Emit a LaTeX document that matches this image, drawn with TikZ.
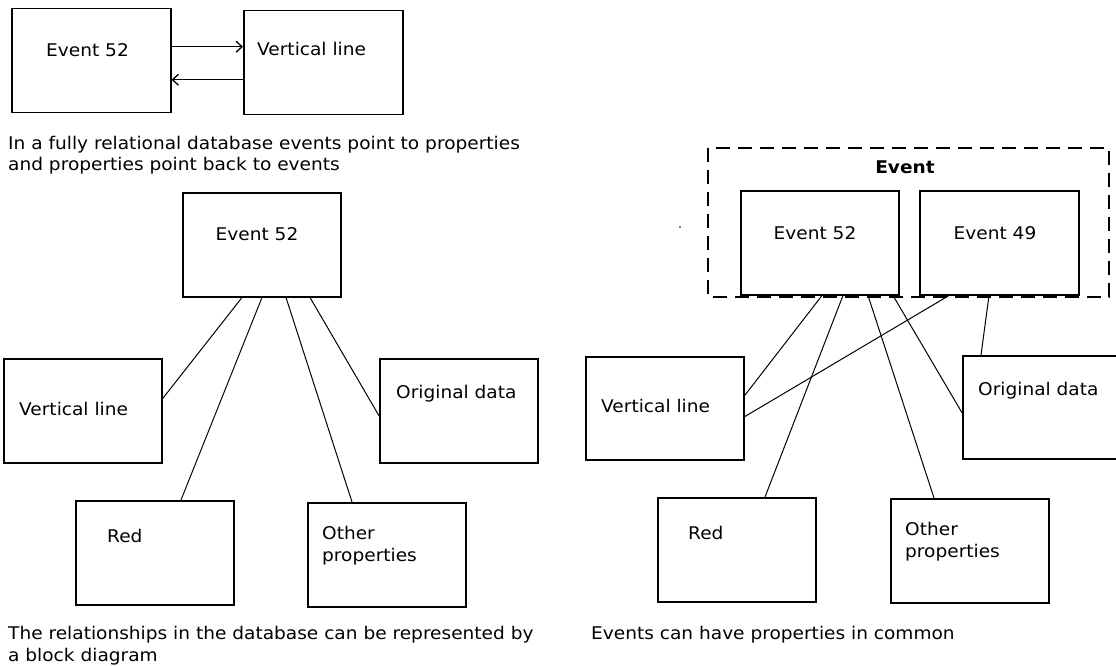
\documentclass[tikz,border=0pt]{standalone}
\usepackage{fontspec}
\setmainfont{DejaVu Sans}[FakeStretch=1.06]
\usetikzlibrary{arrows.meta}
\tikzset{
  box/.style={draw, line width=1.5pt, minimum width=158pt, minimum height=104pt, inner sep=0pt, anchor=north west},
  txt/.style={inner sep=0pt, anchor=base west, font=\fontsize{17.5}{21.5}\selectfont},
  para/.style={inner sep=0pt, anchor=north west, align=left, font=\fontsize{17.5}{21.5}\selectfont},
  link/.style={line width=1pt},
  tip/.style={line width=1.3pt, -{Straight Barb[length=6pt, width=11pt]}}
}
\begin{document}
\begin{tikzpicture}[x=1pt, y=-1pt]
\useasboundingbox (0,0) rectangle (1116,666);
% top: events and properties point to each other
\node[box, minimum width=159pt] (topev) at (11,8) {};
\node[box, minimum width=159pt] (topvl) at (243,10) {};
\node[txt] (topevt) at (46,57) {Event 52};
\node[txt] (topvlt) at (257,55.5) {Vertical line};
\coordinate (a1) at ([yshift=14pt]topev.east);
\coordinate (a2) at ([yshift=-19pt]topev.east);
\draw[tip] (a1) -- (a1 -| topvl.west);
\draw[tip] (a2 -| topvl.west) -- (a2);
\node[para] (cap1) at (8,136) {In a fully relational database events point to properties\\and properties point back to events};
% left: block diagram
\node[box] (ev52) at (182,192) {};
\node[box] (vline) at (3,358) {};
\node[box] (orig) at (379,358) {};
\node[box] (red) at (75,500) {};
\node[box] (other) at (307,502) {};
\node[txt, anchor=base] (ev52t) at (257,240.5) {Event 52};
\node[txt] (vlinet) at (19,415.5) {Vertical line};
\node[txt] (origt) at (396,398.5) {Original data};
\node[txt] (redt) at (107,542.5) {Red};
\node[para] (othert) at (322,526) {Other\\properties};
\draw[link] ([xshift=60pt]ev52.south west) -- ([yshift=12pt]vline.east);
\draw[link] ([xshift=80pt]ev52.south west) -- ([xshift=106pt]red.north west);
\draw[link] ([xshift=104pt]ev52.south west) -- ([xshift=45pt]other.north west);
\draw[link] ([xshift=128pt]ev52.south west) -- ([yshift=-5pt]orig.west);
\node[para] (cap2) at (8,626) {The relationships in the database can be represented by\\a block diagram};
% right: shared properties
\draw[line width=1.5pt, dash pattern=on 14pt off 8pt] (708,148) rectangle (1109,297);
\node[txt, anchor=base, font=\fontsize{17.5}{21.5}\selectfont\bfseries] (grpt) at (905,173.5) {Event};
\node[box] (ev52b) at (740,190) {};
\node[box, minimum width=159pt] (ev49) at (919,190) {};
\node[box, minimum height=103pt] (vlineb) at (585,356) {};
\node[box, minimum height=103pt] (origb) at (962,355) {};
\node[box] (redb) at (657,497) {};
\node[box] (otherb) at (890,498) {};
\node[txt, anchor=base] (ev52bt) at (815,239.5) {Event 52};
\node[txt, anchor=base] (ev49t) at (995,239.5) {Event 49};
\node[txt] (vlinebt) at (601,412.5) {Vertical line};
\node[txt] (origbt) at (978,395.5) {Original data};
\node[txt] (redbt) at (688,539.5) {Red};
\node[para] (otherbt) at (905,522) {Other\\properties};
\fill (680,227) circle (0.8pt);
\draw[link] ([xshift=82pt]ev52b.south west) -- ([yshift=12.5pt]vlineb.east);
\draw[link] ([xshift=103pt]ev52b.south west) -- ([xshift=108pt]redb.north west);
\draw[link] ([xshift=128pt]ev52b.south west) -- ([xshift=44pt]otherb.north west);
\draw[link] ([xshift=153pt]ev52b.south west) -- ([yshift=-5.5pt]origb.west);
\draw[link] ([xshift=30pt]ev49.south west) -- ([yshift=-8.5pt]vlineb.east);
\draw[link] ([xshift=70pt]ev49.south west) -- ([xshift=19pt]origb.north west);
\node[para] (cap3) at (591,626) {Events can have properties in common};
\end{tikzpicture}
\end{document}
